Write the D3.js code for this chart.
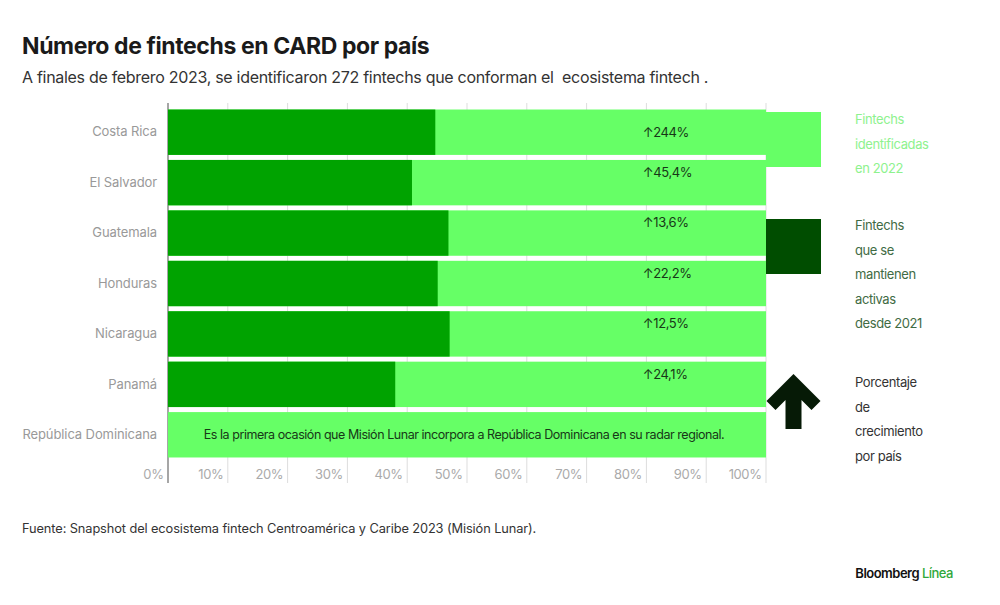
<!DOCTYPE html>
<html>
<head>
<meta charset="utf-8">
<script src="https://cdn.jsdelivr.net/npm/d3@7"></script>
<style>
  body { margin: 0; background: #fff; }
  svg { display: block; font-family: Inter, "Noto Sans", sans-serif; }
  .pre { white-space: pre; }
</style>
</head>
<body>
<div id="chart"></div>
<script>
// country rows, top to bottom
var countries = ["Costa Rica", "El Salvador", "Guatemala", "Honduras", "Nicaragua", "Panamá", "República Dominicana"];
// share of 2022 fintechs still active since 2021 (%)
var activeShare = [44.7, 40.8, 46.9, 45.1, 47.1, 38.0, 0];
// total identified in 2022 (always the full bar)
var identifiedShare = [100, 100, 100, 100, 100, 100, 100];
// growth label per country
var growth = ["244%", "45,4%", "13,6%", "22,2%", "12,5%", "24,1%", null];
var ticks = [0, 10, 20, 30, 40, 50, 60, 70, 80, 90, 100];

var legendItems = [
    {lines: ["Fintechs", "identificadas", "en 2022"], color: "#8ef28e"},
    {lines: ["Fintechs", "que se", "mantienen", "activas", "desde 2021"], color: "#3f6b44"},
    {lines: ["Porcentaje", "de", "crecimiento", "por país"], color: "#333"}
];

var W = 1000, H = 605;
var lightGreen = "#66ff66", darkGreen = "#00a300", legendDark = "#004d00";

var svg = d3.select("#chart").append("svg")
    .attr("width", W)
    .attr("height", H);

svg.append("text")
    .attr("x", 22).attr("y", 54)
    .attr("font-size", 23).attr("font-weight", 700)
    .attr("letter-spacing", -0.4)
    .attr("fill", "#1a1a1a")
    .text("Número de fintechs en CARD por país");

svg.append("text")
    .attr("class", "pre")
    .attr("x", 22).attr("y", 83)
    .attr("font-size", 16)
    .attr("letter-spacing", -0.3)
    .attr("fill", "#333")
    .text("A finales de febrero 2023, se identificaron 272 fintechs que conforman el  ecosistema fintech .");

var x = d3.scaleLinear().domain([0, 100]).range([168, 766]);
var y = d3.scaleBand().domain(countries).range([107, 460])
    .paddingInner(0.1).paddingOuter(0.05);

// grid
var grid = svg.append("g").attr("class", "grid");
grid.selectAll("line")
    .data(ticks)
    .enter().append("line")
    .attr("x1", function(d) { return x(d); })
    .attr("x2", function(d) { return x(d); })
    .attr("y1", 103).attr("y2", 483)
    .attr("stroke", function(d) { return d == 0 ? "#888" : "#ddd"; })
    .attr("stroke-width", function(d) { return d == 0 ? 1.5 : 1; });

// tick labels, right aligned to each grid line
var xAxis = d3.axisBottom(x)
    .tickValues(ticks)
    .tickSize(0)
    .tickFormat(function(d) { return d + "%"; });

var gx = svg.append("g")
    .attr("transform", "translate(0,479)")
    .call(xAxis);
gx.select(".domain").remove();
gx.selectAll("text")
    .attr("y", 0).attr("dy", 0)
    .attr("x", -5)
    .attr("text-anchor", "end")
    .attr("font-family", "Inter, 'Noto Sans', sans-serif")
    .attr("font-size", 13)
    .attr("letter-spacing", -0.4)
    .attr("fill", "#aaa");

// bars
var rows = svg.append("g").selectAll("g")
    .data(countries)
    .enter().append("g");

rows.append("rect")
    .attr("x", x(0))
    .attr("y", function(d) { return y(d); })
    .attr("height", y.bandwidth())
    .attr("width", function(d, i) { return x(identifiedShare[i]) - x(0); })
    .attr("fill", lightGreen);

rows.append("rect")
    .attr("x", x(0))
    .attr("y", function(d) { return y(d); })
    .attr("height", y.bandwidth())
    .attr("width", function(d, i) { return x(activeShare[i]) - x(0); })
    .attr("fill", darkGreen);

rows.filter(function(d, i) { return growth[i] != null; })
    .append("text")
    .attr("x", x(79.4))
    .attr("y", function(d, i) { return y(d) + (i == 0 ? 27 : 17); })
    .attr("font-size", 13)
    .attr("letter-spacing", -0.4)
    .attr("fill", "#173817")
    .text(function(d, i) { return "↑" + growth[i]; });

// category labels
var yAxis = d3.axisLeft(y).tickSize(0).tickPadding(11);
var gy = svg.append("g")
    .attr("transform", "translate(" + x(0) + ",0)")
    .call(yAxis);
gy.select(".domain").remove();
gy.selectAll("text")
    .attr("font-family", "Inter, 'Noto Sans', sans-serif")
    .attr("font-size", 13)
    .attr("letter-spacing", -0.1)
    .attr("fill", "#999");

svg.append("text")
    .attr("x", x(49.5))
    .attr("y", y("República Dominicana") + y.bandwidth() / 2 + 4)
    .attr("text-anchor", "middle")
    .attr("font-size", 12.5)
    .attr("letter-spacing", -0.45)
    .attr("fill", "#173817")
    .text("Es la primera ocasión que Misión Lunar incorpora a República Dominicana en su radar regional.");

// legend
var lx = 766, lw = 55;
svg.append("rect")
    .attr("x", lx).attr("y", 112).attr("width", lw).attr("height", 55)
    .attr("fill", lightGreen);
svg.append("rect")
    .attr("x", lx).attr("y", 219).attr("width", lw).attr("height", 55)
    .attr("fill", legendDark);

// arrow symbol
var ax = lx + lw / 2, at = 374;
svg.append("path")
    .attr("d", "M" + ax + "," + at +
        "L" + (ax + 27) + "," + (at + 27) +
        "L" + (ax + 18) + "," + (at + 36) +
        "L" + (ax + 8) + "," + (at + 26) +
        "L" + (ax + 8) + "," + (at + 55) +
        "L" + (ax - 8) + "," + (at + 55) +
        "L" + (ax - 8) + "," + (at + 26) +
        "L" + (ax - 18) + "," + (at + 36) +
        "L" + (ax - 27) + "," + (at + 27) + "Z")
    .attr("fill", "#061a06");

var legendTop = [124, 230, 387];
legendItems.forEach(function(item, k) {
    var t = svg.append("text")
        .attr("x", 855)
        .attr("font-size", 13)
        .attr("letter-spacing", -0.4)
        .attr("fill", item.color);
    item.lines.forEach(function(line, j) {
        t.append("tspan")
            .attr("x", 855)
            .attr("y", legendTop[k] + j * 24.5)
            .text(line);
    });
});

// footer
svg.append("text")
    .attr("x", 22).attr("y", 533)
    .attr("font-size", 12.8)
    .attr("letter-spacing", -0.1)
    .attr("fill", "#333")
    .text("Fuente: Snapshot del ecosistema fintech Centroamérica y Caribe 2023 (Misión Lunar).");

var brand = svg.append("text")
    .attr("x", 953).attr("y", 578)
    .attr("text-anchor", "end")
    .attr("font-size", 13)
    .attr("font-weight", 600)
    .attr("letter-spacing", -0.5);
brand.append("tspan").attr("fill", "#111").text("Bloomberg ");
brand.append("tspan").attr("fill", "#2fa83a").attr("font-weight", 500).text("Línea");
</script>
</body>
</html>
